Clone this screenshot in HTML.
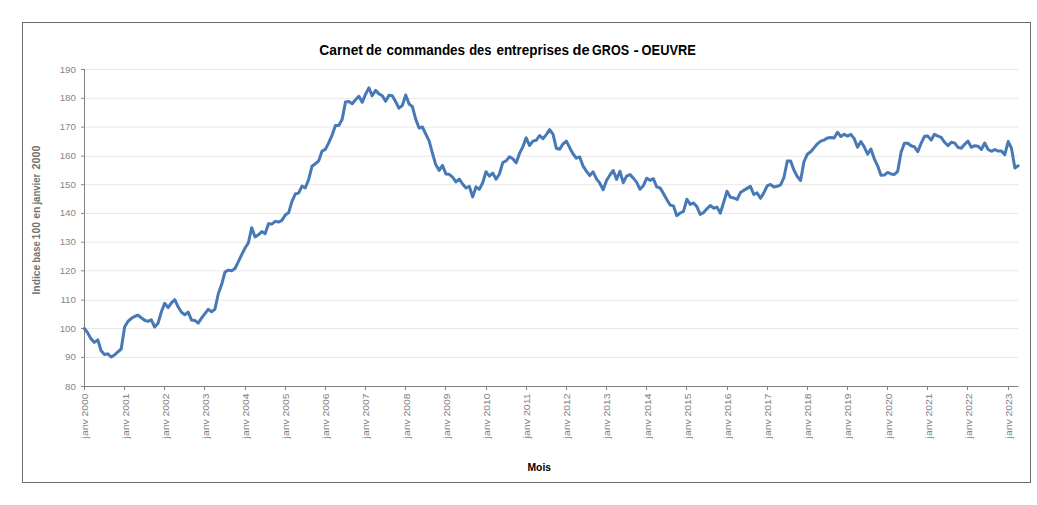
<!DOCTYPE html>
<html><head><meta charset="utf-8"><style>
html,body{margin:0;padding:0;background:#fff;}
svg{display:block;}
text{font-family:"Liberation Sans",sans-serif;}
.yl{font-size:9.8px;fill:#868686;}
.xl{font-size:9.8px;fill:#808080;}
</style></head><body>
<svg width="1037" height="505" viewBox="0 0 1037 505">
<rect x="0" y="0" width="1037" height="505" fill="#fff"/>
<rect x="22.5" y="22.5" width="1008" height="460" fill="none" stroke="#6b6b6b" stroke-width="1"/>
<g font-weight="bold" font-size="14px" fill="#000"><text x="319.3" y="54.6" textLength="43.6" lengthAdjust="spacingAndGlyphs">Carnet</text><text x="366.0" y="54.6" textLength="15.7" lengthAdjust="spacingAndGlyphs">de</text><text x="386.5" y="54.6" textLength="78.6" lengthAdjust="spacingAndGlyphs">commandes</text><text x="469.2" y="54.6" textLength="22.3" lengthAdjust="spacingAndGlyphs">des</text><text x="496.4" y="54.6" textLength="72.6" lengthAdjust="spacingAndGlyphs">entreprises</text><text x="572.5" y="54.6" textLength="17.0" lengthAdjust="spacingAndGlyphs">de</text><text x="592.1" y="54.6" textLength="36.9" lengthAdjust="spacingAndGlyphs">GROS</text><text x="633.4" y="54.6" textLength="5.3" lengthAdjust="spacingAndGlyphs">-</text><text x="641.6" y="54.6" textLength="54.3" lengthAdjust="spacingAndGlyphs">OEUVRE</text></g>
<line x1="81" y1="386.5" x2="84.5" y2="386.5" stroke="#868686" stroke-width="1"/>
<line x1="84.5" y1="357.4" x2="1018.5" y2="357.4" stroke="#e8e8e8" stroke-width="1"/>
<line x1="81" y1="357.4" x2="84.5" y2="357.4" stroke="#868686" stroke-width="1"/>
<line x1="84.5" y1="328.5" x2="1018.5" y2="328.5" stroke="#e8e8e8" stroke-width="1"/>
<line x1="81" y1="328.5" x2="84.5" y2="328.5" stroke="#868686" stroke-width="1"/>
<line x1="84.5" y1="300.2" x2="1018.5" y2="300.2" stroke="#e8e8e8" stroke-width="1"/>
<line x1="81" y1="300.2" x2="84.5" y2="300.2" stroke="#868686" stroke-width="1"/>
<line x1="84.5" y1="270.8" x2="1018.5" y2="270.8" stroke="#e8e8e8" stroke-width="1"/>
<line x1="81" y1="270.8" x2="84.5" y2="270.8" stroke="#868686" stroke-width="1"/>
<line x1="84.5" y1="242.2" x2="1018.5" y2="242.2" stroke="#e8e8e8" stroke-width="1"/>
<line x1="81" y1="242.2" x2="84.5" y2="242.2" stroke="#868686" stroke-width="1"/>
<line x1="84.5" y1="213.4" x2="1018.5" y2="213.4" stroke="#e8e8e8" stroke-width="1"/>
<line x1="81" y1="213.4" x2="84.5" y2="213.4" stroke="#868686" stroke-width="1"/>
<line x1="84.5" y1="184.7" x2="1018.5" y2="184.7" stroke="#e8e8e8" stroke-width="1"/>
<line x1="81" y1="184.7" x2="84.5" y2="184.7" stroke="#868686" stroke-width="1"/>
<line x1="84.5" y1="156.2" x2="1018.5" y2="156.2" stroke="#e8e8e8" stroke-width="1"/>
<line x1="81" y1="156.2" x2="84.5" y2="156.2" stroke="#868686" stroke-width="1"/>
<line x1="84.5" y1="127.1" x2="1018.5" y2="127.1" stroke="#e8e8e8" stroke-width="1"/>
<line x1="81" y1="127.1" x2="84.5" y2="127.1" stroke="#868686" stroke-width="1"/>
<line x1="84.5" y1="98.3" x2="1018.5" y2="98.3" stroke="#e8e8e8" stroke-width="1"/>
<line x1="81" y1="98.3" x2="84.5" y2="98.3" stroke="#868686" stroke-width="1"/>
<line x1="84.5" y1="69.5" x2="1018.5" y2="69.5" stroke="#e8e8e8" stroke-width="1"/>
<line x1="81" y1="69.5" x2="84.5" y2="69.5" stroke="#868686" stroke-width="1"/>
<line x1="84.5" y1="386" x2="84.5" y2="390" stroke="#808080" stroke-width="1"/>
<line x1="124.5" y1="386" x2="124.5" y2="390" stroke="#808080" stroke-width="1"/>
<line x1="164.5" y1="386" x2="164.5" y2="390" stroke="#808080" stroke-width="1"/>
<line x1="204.5" y1="386" x2="204.5" y2="390" stroke="#808080" stroke-width="1"/>
<line x1="245.5" y1="386" x2="245.5" y2="390" stroke="#808080" stroke-width="1"/>
<line x1="285.5" y1="386" x2="285.5" y2="390" stroke="#808080" stroke-width="1"/>
<line x1="325.5" y1="386" x2="325.5" y2="390" stroke="#808080" stroke-width="1"/>
<line x1="365.5" y1="386" x2="365.5" y2="390" stroke="#808080" stroke-width="1"/>
<line x1="405.5" y1="386" x2="405.5" y2="390" stroke="#808080" stroke-width="1"/>
<line x1="445.5" y1="386" x2="445.5" y2="390" stroke="#808080" stroke-width="1"/>
<line x1="486.5" y1="386" x2="486.5" y2="390" stroke="#808080" stroke-width="1"/>
<line x1="526.5" y1="386" x2="526.5" y2="390" stroke="#808080" stroke-width="1"/>
<line x1="566.5" y1="386" x2="566.5" y2="390" stroke="#808080" stroke-width="1"/>
<line x1="606.5" y1="386" x2="606.5" y2="390" stroke="#808080" stroke-width="1"/>
<line x1="646.5" y1="386" x2="646.5" y2="390" stroke="#808080" stroke-width="1"/>
<line x1="686.5" y1="386" x2="686.5" y2="390" stroke="#808080" stroke-width="1"/>
<line x1="727.5" y1="386" x2="727.5" y2="390" stroke="#808080" stroke-width="1"/>
<line x1="767.5" y1="386" x2="767.5" y2="390" stroke="#808080" stroke-width="1"/>
<line x1="807.5" y1="386" x2="807.5" y2="390" stroke="#808080" stroke-width="1"/>
<line x1="847.5" y1="386" x2="847.5" y2="390" stroke="#808080" stroke-width="1"/>
<line x1="887.5" y1="386" x2="887.5" y2="390" stroke="#808080" stroke-width="1"/>
<line x1="927.5" y1="386" x2="927.5" y2="390" stroke="#808080" stroke-width="1"/>
<line x1="967.5" y1="386" x2="967.5" y2="390" stroke="#808080" stroke-width="1"/>
<line x1="1008.5" y1="386" x2="1008.5" y2="390" stroke="#808080" stroke-width="1"/>

<line x1="84.5" y1="69" x2="84.5" y2="386.5" stroke="#808080" stroke-width="1"/>
<line x1="84" y1="386.5" x2="1018.5" y2="386.5" stroke="#808080" stroke-width="1"/>
<text x="76" y="389.5" text-anchor="end" class="yl">80</text>
<text x="76" y="360.4" text-anchor="end" class="yl">90</text>
<text x="76" y="331.5" text-anchor="end" class="yl">100</text>
<text x="76" y="303.2" text-anchor="end" class="yl">110</text>
<text x="76" y="273.8" text-anchor="end" class="yl">120</text>
<text x="76" y="245.2" text-anchor="end" class="yl">130</text>
<text x="76" y="216.4" text-anchor="end" class="yl">140</text>
<text x="76" y="187.7" text-anchor="end" class="yl">150</text>
<text x="76" y="159.2" text-anchor="end" class="yl">160</text>
<text x="76" y="130.1" text-anchor="end" class="yl">170</text>
<text x="76" y="101.3" text-anchor="end" class="yl">180</text>
<text x="76" y="72.5" text-anchor="end" class="yl">190</text>

<text transform="translate(88.3,393.4) rotate(-90)" text-anchor="end" class="xl" textLength="45" lengthAdjust="spacingAndGlyphs">janv 2000</text>
<text transform="translate(128.5,393.4) rotate(-90)" text-anchor="end" class="xl" textLength="45" lengthAdjust="spacingAndGlyphs">janv 2001</text>
<text transform="translate(168.6,393.4) rotate(-90)" text-anchor="end" class="xl" textLength="45" lengthAdjust="spacingAndGlyphs">janv 2002</text>
<text transform="translate(208.8,393.4) rotate(-90)" text-anchor="end" class="xl" textLength="45" lengthAdjust="spacingAndGlyphs">janv 2003</text>
<text transform="translate(249.0,393.4) rotate(-90)" text-anchor="end" class="xl" textLength="45" lengthAdjust="spacingAndGlyphs">janv 2004</text>
<text transform="translate(289.1,393.4) rotate(-90)" text-anchor="end" class="xl" textLength="45" lengthAdjust="spacingAndGlyphs">janv 2005</text>
<text transform="translate(329.3,393.4) rotate(-90)" text-anchor="end" class="xl" textLength="45" lengthAdjust="spacingAndGlyphs">janv 2006</text>
<text transform="translate(369.4,393.4) rotate(-90)" text-anchor="end" class="xl" textLength="45" lengthAdjust="spacingAndGlyphs">janv 2007</text>
<text transform="translate(409.6,393.4) rotate(-90)" text-anchor="end" class="xl" textLength="45" lengthAdjust="spacingAndGlyphs">janv 2008</text>
<text transform="translate(449.8,393.4) rotate(-90)" text-anchor="end" class="xl" textLength="45" lengthAdjust="spacingAndGlyphs">janv 2009</text>
<text transform="translate(489.9,393.4) rotate(-90)" text-anchor="end" class="xl" textLength="45" lengthAdjust="spacingAndGlyphs">janv 2010</text>
<text transform="translate(530.1,393.4) rotate(-90)" text-anchor="end" class="xl" textLength="45" lengthAdjust="spacingAndGlyphs">janv 2011</text>
<text transform="translate(570.3,393.4) rotate(-90)" text-anchor="end" class="xl" textLength="45" lengthAdjust="spacingAndGlyphs">janv 2012</text>
<text transform="translate(610.4,393.4) rotate(-90)" text-anchor="end" class="xl" textLength="45" lengthAdjust="spacingAndGlyphs">janv 2013</text>
<text transform="translate(650.6,393.4) rotate(-90)" text-anchor="end" class="xl" textLength="45" lengthAdjust="spacingAndGlyphs">janv 2014</text>
<text transform="translate(690.8,393.4) rotate(-90)" text-anchor="end" class="xl" textLength="45" lengthAdjust="spacingAndGlyphs">janv 2015</text>
<text transform="translate(730.9,393.4) rotate(-90)" text-anchor="end" class="xl" textLength="45" lengthAdjust="spacingAndGlyphs">janv 2016</text>
<text transform="translate(771.1,393.4) rotate(-90)" text-anchor="end" class="xl" textLength="45" lengthAdjust="spacingAndGlyphs">janv 2017</text>
<text transform="translate(811.2,393.4) rotate(-90)" text-anchor="end" class="xl" textLength="45" lengthAdjust="spacingAndGlyphs">janv 2018</text>
<text transform="translate(851.4,393.4) rotate(-90)" text-anchor="end" class="xl" textLength="45" lengthAdjust="spacingAndGlyphs">janv 2019</text>
<text transform="translate(891.6,393.4) rotate(-90)" text-anchor="end" class="xl" textLength="45" lengthAdjust="spacingAndGlyphs">janv 2020</text>
<text transform="translate(931.7,393.4) rotate(-90)" text-anchor="end" class="xl" textLength="45" lengthAdjust="spacingAndGlyphs">janv 2021</text>
<text transform="translate(971.9,393.4) rotate(-90)" text-anchor="end" class="xl" textLength="45" lengthAdjust="spacingAndGlyphs">janv 2022</text>
<text transform="translate(1012.1,393.4) rotate(-90)" text-anchor="end" class="xl" textLength="45" lengthAdjust="spacingAndGlyphs">janv 2023</text>

<g transform="translate(40.2,300) rotate(-90)" font-weight="bold" font-size="11px" fill="#727272"><text x="5.5" y="0" textLength="29.8" lengthAdjust="spacingAndGlyphs">Indice</text><text x="37.3" y="0" textLength="21.5" lengthAdjust="spacingAndGlyphs">base</text><text x="60.6" y="0" textLength="17.4" lengthAdjust="spacingAndGlyphs">100</text><text x="81.2" y="0" textLength="12.1" lengthAdjust="spacingAndGlyphs">en</text><text x="95.4" y="0" textLength="30.9" lengthAdjust="spacingAndGlyphs">janvier</text><text x="130.4" y="0" textLength="24.1" lengthAdjust="spacingAndGlyphs">2000</text></g>
<text x="527.5" y="470.8" font-weight="bold" font-size="11.5px" fill="#000" textLength="23.5" lengthAdjust="spacingAndGlyphs">Mois</text>
<polyline points="84.4,328.5 87.7,332.9 91.1,338.9 94.4,342.4 97.8,339.9 101.1,350.8 104.5,354.6 107.8,353.8 111.2,357.0 114.5,354.9 117.9,351.9 121.2,349.0 124.6,326.9 127.9,321.4 131.3,318.5 134.6,316.5 138.0,315.2 141.3,317.8 144.6,320.3 148.0,321.4 151.3,319.8 154.7,327.0 158.0,323.2 161.4,311.7 164.7,303.3 168.1,307.6 171.4,302.8 174.8,299.7 178.1,306.8 181.5,312.2 184.8,314.7 188.2,312.2 191.5,320.1 194.8,320.4 198.2,323.1 201.5,318.2 204.9,313.7 208.2,309.3 211.6,311.7 214.9,309.3 218.3,293.8 221.6,284.6 225.0,272.0 228.3,270.1 231.7,270.8 235.0,268.5 238.4,261.7 241.7,254.6 245.1,248.0 248.4,242.7 251.7,227.7 255.1,236.9 258.4,234.8 261.8,231.6 265.1,233.7 268.5,223.7 271.8,224.1 275.2,221.3 278.5,222.1 281.9,220.4 285.2,215.1 288.6,212.8 291.9,201.6 295.3,194.0 298.6,193.1 302.0,186.1 305.3,187.8 308.6,179.7 312.0,166.3 315.3,163.8 318.7,160.8 322.0,151.2 325.4,149.4 328.7,142.9 332.1,135.2 335.4,125.4 338.8,125.4 342.1,119.6 345.5,102.0 348.8,101.6 352.2,103.8 355.5,99.8 358.9,96.3 362.2,102.3 365.5,94.4 368.9,87.9 372.2,95.8 375.6,90.4 378.9,93.9 382.3,95.8 385.6,101.3 389.0,95.3 392.3,95.8 395.7,101.8 399.0,108.2 402.4,105.3 405.7,95.0 409.1,104.0 412.4,106.6 415.7,119.1 419.1,128.0 422.4,127.0 425.8,134.1 429.1,140.9 432.5,153.3 435.8,164.8 439.2,170.4 442.5,165.4 445.9,173.9 449.2,174.3 452.6,177.1 455.9,181.9 459.3,179.2 462.6,184.0 466.0,188.0 469.3,186.3 472.6,196.9 476.0,186.9 479.3,189.4 482.7,182.7 486.0,171.8 489.4,176.1 492.7,173.1 496.1,179.2 499.4,174.0 502.8,162.5 506.1,160.9 509.5,156.8 512.8,158.7 516.2,162.8 519.5,153.5 522.9,146.6 526.2,137.9 529.5,145.5 532.9,141.1 536.2,140.3 539.6,135.5 542.9,138.7 546.3,134.6 549.6,129.7 553.0,134.1 556.3,148.2 559.7,149.3 563.0,143.9 566.4,141.1 569.7,147.7 573.1,154.0 576.4,158.2 579.7,157.0 583.1,166.2 586.4,171.2 589.8,175.6 593.1,171.8 596.5,178.9 599.8,183.2 603.2,189.7 606.5,180.5 609.9,175.0 613.2,170.5 616.6,179.4 619.9,171.2 623.3,182.7 626.6,176.1 630.0,174.6 633.3,178.1 636.6,182.1 640.0,189.3 643.3,185.8 646.7,178.2 650.0,180.3 653.4,178.7 656.7,186.9 660.1,188.0 663.4,193.4 666.8,199.4 670.1,205.1 673.5,205.9 676.8,215.7 680.2,213.0 683.5,211.4 686.9,199.2 690.2,204.4 693.5,203.0 696.9,206.6 700.2,214.4 703.6,212.6 706.9,208.8 710.3,205.5 713.6,208.2 717.0,207.1 720.3,213.1 723.7,202.2 727.0,191.3 730.4,197.3 733.7,197.9 737.1,199.5 740.4,192.6 743.7,190.4 747.1,188.4 750.4,186.4 753.8,194.5 757.1,192.9 760.5,198.3 763.8,192.9 767.2,185.8 770.5,184.4 773.9,187.0 777.2,186.3 780.6,184.8 783.9,177.7 787.3,161.0 790.6,161.0 794.0,170.3 797.3,176.5 800.6,180.6 804.0,161.6 807.3,154.3 810.7,151.7 814.0,147.9 817.4,143.8 820.7,141.1 824.1,140.1 827.4,137.9 830.8,137.4 834.1,138.0 837.5,132.2 840.8,136.5 844.2,134.2 847.5,136.1 850.9,134.4 854.2,138.6 857.5,147.3 860.9,141.6 864.2,146.8 867.6,154.2 870.9,149.0 874.3,158.8 877.6,165.8 881.0,175.3 884.3,175.1 887.7,172.4 891.0,174.0 894.4,174.5 897.7,171.3 901.1,152.2 904.4,143.3 907.8,143.2 911.1,145.8 914.4,146.8 917.8,151.6 921.1,143.4 924.5,136.3 927.8,136.1 931.2,140.1 934.5,134.2 937.9,136.1 941.2,137.4 944.6,142.3 947.9,145.6 951.3,142.3 954.6,142.9 958.0,147.4 961.3,148.3 964.6,144.3 968.0,141.1 971.3,147.3 974.7,145.7 978.0,146.2 981.4,149.5 984.7,143.0 988.1,149.5 991.4,151.3 994.8,149.5 998.1,151.1 1001.5,151.1 1004.8,154.6 1008.2,141.5 1011.5,148.4 1014.9,168.0 1018.2,165.8" fill="none" stroke="#4679b6" stroke-width="3" stroke-linejoin="round" stroke-linecap="round"/>
</svg>
</body></html>
